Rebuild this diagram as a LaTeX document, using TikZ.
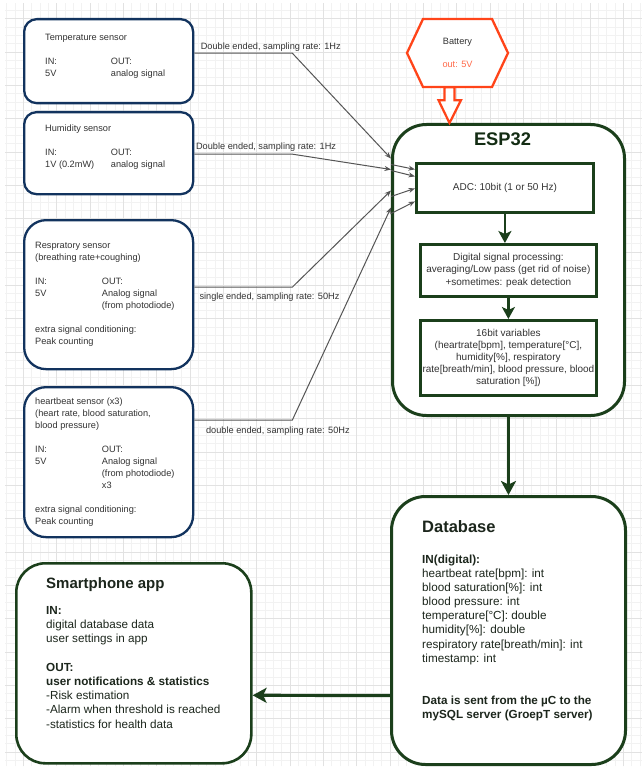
\documentclass[tikz,border=0pt]{standalone}
\usepackage{fontspec}
\setmainfont{Liberation Sans}
\usetikzlibrary{calc,arrows.meta}
\definecolor{navy}{HTML}{12335E}
\definecolor{dgreen}{HTML}{1B3F1B}
\definecolor{batorange}{HTML}{FF4419}
\definecolor{batlight}{HTML}{FF6A4A}
\definecolor{gridminor}{HTML}{F2F2F2}
\definecolor{gridmajor}{HTML}{E2E2E2}
\definecolor{wirecol}{HTML}{555555}
\definecolor{txt}{HTML}{333333}
\definecolor{dbtxt}{HTML}{1C261C}
\begin{document}
\begin{tikzpicture}[x=1pt,y=-1pt,
  sensorbox/.style={draw=navy, line width=2.3pt, fill=white, rounded corners=#1, inner sep=0pt, anchor=north west},
  greenbox/.style={draw=dgreen, line width=3pt, fill=white, rounded corners=#1, inner sep=0pt, anchor=north west},
  innerbox/.style={draw=dgreen, line width=2.8pt, fill=white, inner sep=0pt, align=center, text=txt, font=\fontsize{10}{12.2}\selectfont},
  sensortext/.style={anchor=north west, inner sep=0pt, align=left, text=txt, font=\fontsize{9.2}{12}\selectfont},
  bodytext/.style={anchor=north west, inner sep=0pt, align=left, text=dbtxt, font=\fontsize{11.7}{14.15}\selectfont},
  wirelabel/.style={inner sep=0pt, text=txt, font=\fontsize{9.2}{11}\selectfont},
  wire/.style={draw=wirecol, line width=1pt, -{Stealth[length=6.5pt,width=5pt]}},
  greenarrow/.style={draw=dgreen, line width=2.8pt, -{Stealth[length=12pt,width=13pt,inset=3pt]}},
  bigarrow/.style={draw=dgreen, line width=3.2pt, -{Stealth[length=14pt,width=15pt,inset=3.5pt]}}
]
\useasboundingbox (0,0) rectangle (642,770);
\fill[white] (0,0) rectangle (642,770);
% grid
\begin{scope}[shift={(23.333,18.667)}]
  \draw[gridminor, line width=0.5pt, step=8.3333pt] (-18.333,747.333) grid (618.667,-15.667);
  \draw[gridmajor, line width=0.7pt, step=33.3333pt] (-18.333,747.333) grid (618.667,-15.667);
\end{scope}

% sensor boxes
\node[sensorbox=12.6pt, minimum width=169pt, minimum height=84pt] (temp) at (23,18) {};
\node[sensorbox=12.3pt, minimum width=169pt, minimum height=82pt] (hum) at (23,111) {};
\node[sensorbox=22pt, minimum width=169pt, minimum height=149pt] (resp) at (23,219) {};
\node[sensorbox=22pt, minimum width=169pt, minimum height=150pt] (heart) at (23,386) {};

% ESP32 and inner blocks
\node[greenbox=34pt, minimum width=232pt, minimum height=291pt] (esp) at (391,123) {};
\node[innerbox, anchor=north west, minimum width=177pt, minimum height=49pt] (adc) at (415,162) {ADC: 10bit (1 or 50 Hz)};
\node[innerbox, anchor=north west, minimum width=176pt, minimum height=52pt] (dsp) at (419,243)
  {Digital signal processing:\\ averaging/Low pass (get rid of noise)\\ +sometimes: peak detection};
\node[innerbox, anchor=north west, minimum width=176pt, minimum height=75pt] (vars) at (419,319)
  {16bit variables\\ (heartrate[bpm], temperature[°C],\\ humidity[\%], respiratory\\ rate[breath/min], blood pressure, blood\\ saturation [\%])};

% database and app
\node[greenbox=34pt, minimum width=234pt, minimum height=268pt] (db) at (390,495) {};
\node[greenbox=29pt, line width=2.6pt, minimum width=235pt, minimum height=200pt] (sp) at (15,562) {};

% battery
\filldraw[fill=white, draw=batorange, line width=2.3pt, line join=miter]
  (407,53) -- (423,19) -- (492,19) -- (508,53) -- (492,87) -- (423,87) -- cycle;
\node[minimum width=101pt, minimum height=68pt, inner sep=0pt, align=center, text=txt,
      font=\fontsize{9.2}{11.5}\selectfont] (bat) at (457.5,53)
  {Battery\\[11.5pt] \textcolor{batlight}{out: 5V}};
\filldraw[fill=white, draw=batorange, line width=2.2pt, line join=miter]
  ($(bat.south)+(-13,0)$) -- ++(0,13) -- ++(-6,0) -- ($(esp.north west)+(58.5,0)$)
  -- ($(bat.south)+(3.5,13)$) -- ++(-6.5,0) -- ($(bat.south)+(-3,0)$) -- cycle;

% sensor texts
\node[sensortext] (tempTxt) at (45,34.1)
  {Temperature sensor\\[12pt]
   \makebox[65.7pt][l]{IN:}OUT:\\
   \makebox[65.7pt][l]{5V}analog signal};
\node[sensortext] (humTxt) at (45,124.7)
  {Humidity sensor\\[12pt]
   \makebox[65.7pt][l]{IN:}OUT:\\
   \makebox[65.7pt][l]{1V (0.2mW)}analog signal};
\node[sensortext] (respTxt) at (35,242.4)
  {Respratory sensor\\
   (breathing rate+coughing)\\[12pt]
   \makebox[66.7pt][l]{IN:}OUT:\\
   \makebox[66.7pt][l]{5V}Analog signal\\
   \makebox[66.7pt][l]{}(from photodiode)\\[12pt]
   extra signal conditioning:\\
   Peak counting};
\node[sensortext] (heartTxt) at (35,398.1)
  {heartbeat sensor (x3)\\
   (heart rate, blood saturation,\\
   blood pressure)\\[12pt]
   \makebox[66.7pt][l]{IN:}OUT:\\
   \makebox[66.7pt][l]{5V}Analog signal\\
   \makebox[66.7pt][l]{}(from photodiode)\\
   \makebox[66.7pt][l]{}x3\\[12pt]
   extra signal conditioning:\\
   Peak counting};

% titles
\node[anchor=base, inner sep=0pt, text=dgreen!70!black, font=\fontsize{18.3}{22}\selectfont\bfseries] (espTitle) at (502.5,145.5) {ESP32};
\node[anchor=base west, inner sep=0pt, text=dbtxt, font=\fontsize{16.5}{20}\selectfont\bfseries] (dbTitle) at (422,532.3) {Database};
\node[anchor=base west, inner sep=0pt, text=dbtxt, font=\fontsize{15}{18}\selectfont\bfseries] (spTitle) at (46,588.3) {Smartphone app};

\node[bodytext] (dbTxt) at (422,554.5)
  {\textbf{IN(digital):}\\
   heartbeat rate[bpm]: int\\
   blood saturation[\%]: int\\
   blood pressure: int\\
   temperature[°C]: double\\
   humidity[\%]: double\\
   respiratory rate[breath/min]: int\\
   timestamp: int\\[28.3pt]
   \textbf{Data is sent from the µC to the}\\
   \textbf{mySQL server (GroepT server)}};
\node[bodytext, font=\fontsize{11.7}{14.2}\selectfont] (spTxt) at (46,606.3)
  {\textbf{IN:}\\
   digital database data\\
   user settings in app\\[14.2pt]
   \textbf{OUT:}\\
   \textbf{user notifications \& statistics}\\
   -Risk estimation\\
   -Alarm when threshold is reached\\
   -statistics for health data};

% sensor wires
\draw[wire] ([yshift=8pt]temp.east)
  -- node[wirelabel, pos=0, anchor=base west, xshift=6pt, yshift=3.7pt] (lab1) {Double ended, sampling rate: 1Hz} ++(98,0)
  -- ([yshift=111.5pt]esp.west);
\draw[wire] ([yshift=-1pt]hum.east)
  -- node[wirelabel, pos=0, anchor=base west, xshift=1.3pt, yshift=4.7pt] (lab2) {Double ended, sampling rate: 1Hz} ++(98,0)
  -- ([yshift=100.5pt]esp.west);
\draw[wire] ([yshift=7.5pt]resp.east)
  -- node[wirelabel, pos=0, anchor=base west, xshift=4.7pt, yshift=-12pt] (lab3) {single ended, sampling rate: 50Hz} ++(98,0)
  -- ([yshift=79.5pt]esp.west);
\draw[wire] ([yshift=42pt]heart.east)
  -- node[wirelabel, pos=0, anchor=base west, xshift=11.3pt, yshift=-13.5pt] (lab4) {double ended, sampling rate: 50Hz} ++(98,0)
  -- ([yshift=62.5pt]esp.west);

% inner wires to ADC
\draw[wire] ([yshift=105.5pt]esp.west) -- ([yshift=18.5pt]adc.west);
\draw[wire] ([yshift=99.5pt]esp.west) -- ([yshift=11.5pt]adc.west);
\draw[wire] ([yshift=73.5pt]esp.west) -- ([yshift=-0.5pt]adc.west);
\draw[wire] ([yshift=56.5pt]esp.west) -- ([yshift=-13.5pt]adc.west);

% green arrows
\draw[greenarrow] (adc.south) -- (adc.south |- dsp.north);
\draw[greenarrow] (dsp.south) -- (vars.north);
\draw[bigarrow] (esp.south) -- (db.north);
\draw[bigarrow] ([yshift=-65pt]db.west) -- ([yshift=-32pt]sp.east);
\end{tikzpicture}
\end{document}
